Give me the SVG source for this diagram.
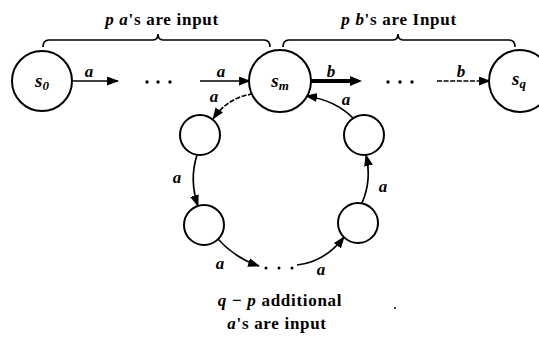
<svg xmlns="http://www.w3.org/2000/svg" width="539" height="339" viewBox="0 0 539 339">
<style>
.st{fill:#fff;stroke:#000;stroke-width:2}
.ed{fill:none;stroke:#000;stroke-width:1.7}
.dsh{stroke-dasharray:5 1.6}
.bold{fill:none;stroke:#000;stroke-width:4}
.br{fill:none;stroke:#000;stroke-width:1.6}
.lb{font-family:"Liberation Serif",serif;font-style:italic;font-weight:bold;font-size:17px;fill:#000}
.sl{font-family:"Liberation Serif",serif;font-style:italic;font-weight:bold;font-size:19px;fill:#000}
.tx{font-family:"Liberation Serif",serif;font-weight:bold;font-size:17px;letter-spacing:0.7px;fill:#000}
.it{font-style:italic}
.dot{fill:#000}
</style>
<defs>
<marker id="ah" markerUnits="userSpaceOnUse" markerWidth="13" markerHeight="9" refX="11" refY="4.5" orient="auto">
<path d="M0,0 L12,4.5 L0,9 z" fill="#000"/>
</marker>
</defs>
<rect width="539" height="339" fill="#fff"/>
<g id="labels-top">
<text class="tx" x="162" y="25" text-anchor="middle"><tspan class="it">p a</tspan>'s are input</text>
<text class="tx" x="399" y="25" text-anchor="middle"><tspan class="it">p b</tspan>'s are Input</text>
<path class="br" d="M43,47 Q43,40 49,40 L153,40 Q158,40 158,34 Q158,40 163,40 L264,40 Q270,40 270,47"/>
<path class="br" d="M283,47 Q283,40 289,40 L393,40 Q398,40 398,34 Q398,40 403,40 L509,40 Q515,40 515,47"/>
</g>
<g id="connectors">
<line class="ed" x1="71" y1="81" x2="118" y2="81" marker-end="url(#ah)"/>
<line class="ed" x1="200" y1="81" x2="250" y2="81" marker-end="url(#ah)"/>
<line class="bold" x1="311" y1="81" x2="358" y2="81"/>
<path d="M350,76 L362,81 L350,86 z" fill="#000"/>
<line class="ed dsh" x1="437" y1="81" x2="490" y2="81" marker-end="url(#ah)"/>
<path class="ed dsh" d="M253,94 Q228,97 213,119" marker-end="url(#ah)"/>
<path class="ed" d="M197,155 Q189,180 198,206" marker-end="url(#ah)"/>
<path class="ed" d="M218,239 Q235,258 259,266" marker-end="url(#ah)"/>
<path class="ed" d="M297,265 Q325,262 344,237" marker-end="url(#ah)"/>
<path class="ed" d="M362,203 Q372,180 366,155" marker-end="url(#ah)"/>
<path class="ed" d="M353,118 Q335,100 306,96" marker-end="url(#ah)"/>
<circle class="dot" cx="147" cy="82" r="1.7"/>
<circle class="dot" cx="158" cy="82" r="1.7"/>
<circle class="dot" cx="170" cy="82" r="1.7"/>
<circle class="dot" cx="388" cy="82" r="1.7"/>
<circle class="dot" cx="400" cy="82" r="1.7"/>
<circle class="dot" cx="412" cy="82" r="1.7"/>
<circle class="dot" cx="266" cy="268" r="1.5"/>
<circle class="dot" cx="279" cy="268" r="1.5"/>
<circle class="dot" cx="292" cy="268" r="1.5"/>
<text class="lb" x="89" y="77" text-anchor="middle">a</text>
<text class="lb" x="221" y="77" text-anchor="middle">a</text>
<text class="lb" x="331" y="77" text-anchor="middle">b</text>
<text class="lb" x="461" y="77" text-anchor="middle">b</text>
<text class="lb" x="214" y="102" text-anchor="middle">a</text>
<text class="lb" x="177" y="183" text-anchor="middle">a</text>
<text class="lb" x="220" y="269" text-anchor="middle">a</text>
<text class="lb" x="321" y="275" text-anchor="middle">a</text>
<text class="lb" x="383" y="192" text-anchor="middle">a</text>
<text class="lb" x="346" y="105" text-anchor="middle">a</text>
</g>
<g id="s0"><circle class="st" cx="42" cy="81" r="30"/><text class="sl" x="42" y="87" text-anchor="middle">s<tspan font-size="13" dy="3">0</tspan></text></g>
<g id="sm"><circle class="st" cx="280" cy="81" r="31"/><text class="sl" x="280" y="87" text-anchor="middle">s<tspan font-size="13" dy="3">m</tspan></text></g>
<g id="sq"><circle class="st" cx="520" cy="81" r="31"/><text class="sl" x="519" y="85" text-anchor="middle">s<tspan font-size="13" dy="3">q</tspan></text></g>
<g id="r1"><circle class="st" cx="200" cy="135" r="20"/></g>
<g id="r2"><circle class="st" cx="204" cy="225" r="20"/></g>
<g id="r3"><circle class="st" cx="358" cy="223" r="20"/></g>
<g id="r4"><circle class="st" cx="364" cy="135" r="20"/></g>
<g id="caption">
<text class="tx" x="280" y="306" text-anchor="middle"><tspan class="it">q</tspan> − <tspan class="it">p</tspan> additional</text>
<text class="tx" x="277" y="329" text-anchor="middle"><tspan class="it">a</tspan>'s are input</text>
<circle class="dot" cx="395" cy="308" r="1"/>
</g>
</svg>
